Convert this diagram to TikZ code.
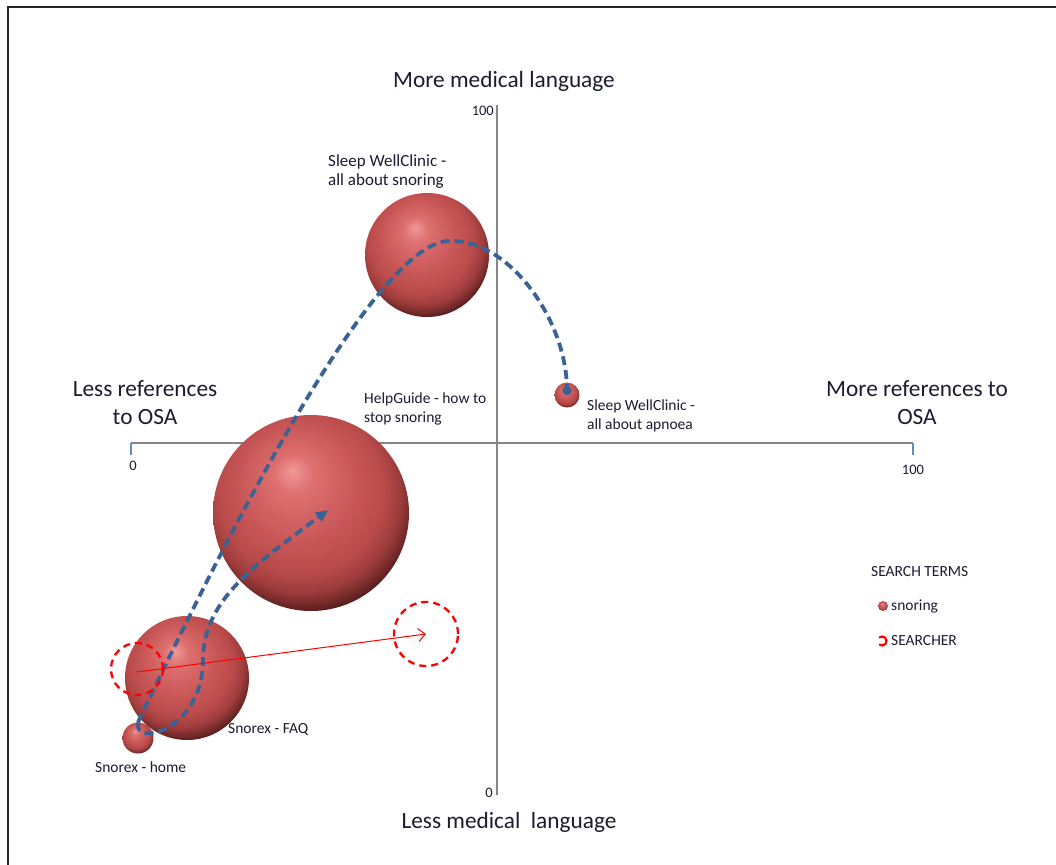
\documentclass[tikz,border=0pt]{standalone}
\usepackage{fontspec}
\setmainfont{Carlito}
\usetikzlibrary{arrows.meta}
\definecolor{sphA}{RGB}{242,152,152}
\definecolor{sphB}{RGB}{222,112,112}
\definecolor{sphC}{RGB}{200,86,86}
\definecolor{sphD}{RGB}{186,75,75}
\definecolor{sphE}{RGB}{158,60,60}
\definecolor{sphF}{RGB}{108,38,38}
\definecolor{sphG}{RGB}{68,22,22}
\definecolor{sphH}{RGB}{50,15,15}
\definecolor{pathblue}{RGB}{58,98,148}
\definecolor{axisgray}{RGB}{134,134,134}
\definecolor{tickblue}{RGB}{100,140,195}
\definecolor{txt}{RGB}{28,28,48}
\pgfdeclareradialshading{redsphere}{\pgfpoint{-5bp}{11bp}}{color(0bp)=(sphA); color(5bp)=(sphB); color(15bp)=(sphC); color(21bp)=(sphD); color(25bp)=(sphE); color(28bp)=(sphF); color(30bp)=(sphG); color(45bp)=(sphH)}
\begin{document}
\begin{tikzpicture}[x=1pt,y=-1pt,
  bubble/.style={circle, inner sep=0pt, draw=none, shading=redsphere},
  axisline/.style={draw=axisgray, line width=2pt},
  bluedash/.style={draw=pathblue, line width=3.8pt, dash pattern=on 9pt off 5pt},
  searcher/.style={circle, inner sep=0pt, draw=red, line width=2.3pt, dash pattern=on 7pt off 5pt},
  big/.style={font=\fontsize{23.3}{28}\selectfont, text=txt, inner sep=0pt, align=center},
  small/.style={font=\fontsize{15.5}{19}\selectfont, text=txt, inner sep=0pt, align=left},
  ticklab/.style={font=\fontsize{14.5}{16}\selectfont, text=txt, inner sep=0pt}]
\useasboundingbox (0,0) rectangle (1056,864);
\fill[white] (0,0) rectangle (1056,864);
% frame
\draw[line width=2.4pt, black!85] (8,900) -- (8,7) -- (1100,7);
% axes
\coordinate (xl) at (131,443);
\coordinate (xr) at (913,443);
\coordinate (yt) at (497,105);
\coordinate (yb) at (497,795);
\draw[axisline] (xl) -- (xr);
\draw[axisline] (yt) -- (yb);
\draw[tickblue, line width=1.2pt] (xl) -- ++(0,12);
\draw[tickblue, line width=1.2pt] (xr) -- ++(0,12);
% axis labels
\node[big] (top) at (504,81) {More medical language};
\node[big] (bot) at (509,822) {Less medical\ \ language};
\node[big] (lft) at (145,403) {Less references\\to OSA};
\node[big] (rgt) at (917,403) {More references to\\OSA};
\node[ticklab] (x0) at (133,466) {0};
\node[ticklab] (x100) at (913,470) {100};
\node[ticklab, anchor=east] (y100) at (494,111) {100};
\node[ticklab] (y0) at (489,793) {0};
% bubbles
\node[bubble, minimum size=124pt] (swc) at (427,255) {};
\node[bubble, minimum size=196pt] (help) at (311,513) {};
\node[bubble, minimum size=124pt] (faq) at (187,678) {};
\node[bubble, minimum size=31pt] (home) at (138,738) {};
\node[bubble, minimum size=25pt] (apnoea) at (567,395) {};
% bubble labels
\node[small, anchor=west, font=\fontsize{17}{19}\selectfont] (swcl) at (328,172) {Sleep WellClinic -\\all about snoring};
\node[small, anchor=west] (helpl) at (364,409) {HelpGuide - how to\\stop snoring};
\node[small, anchor=west] (apnl) at (587,416) {Sleep WellClinic -\\all about apnoea};
\node[small, anchor=west] (faql) at (228,729) {Snorex - FAQ};
\node[small, anchor=west] (homel) at (95,767) {Snorex - home};
% paths
\coordinate (helptip) at (328,510);
\draw[bluedash, -{Circle[length=9pt]}] (home.north) .. controls (215,560) and (375,235) .. (452,241) .. controls (510,241) and (566,320) .. (apnoea.center);
\draw[bluedash, -{Triangle[length=12pt,width=11pt]}] (home.north) .. controls (133,748) and (203,730) .. (203,660) .. controls (203,600) and (255,565) .. (helptip);
% searcher
\node[searcher, minimum size=52pt] (s1) at (137,669) {};
\node[searcher, minimum size=64pt] (s2) at (426,634) {};
\draw[red, line width=1pt, -{Straight Barb[length=7pt,width=13pt]}] ([yshift=-3pt]s1.center) -- (s2.center);
% legend
\node[small, anchor=west] (legt) at (871,572) {SEARCH TERMS};
\node[bubble, minimum size=10pt] (legball) at (883,606) {};
\node[small, anchor=west] (legs) at (891,606) {snoring};
\coordinate (legicon) at (882,641);
\draw[red, line width=2.2pt] ([shift={(130:4.5)}]legicon) arc[start angle=130, end angle=-130, radius=4.5];
\node[small, anchor=west] (legr) at (891,641) {SEARCHER};
\end{tikzpicture}
\end{document}
